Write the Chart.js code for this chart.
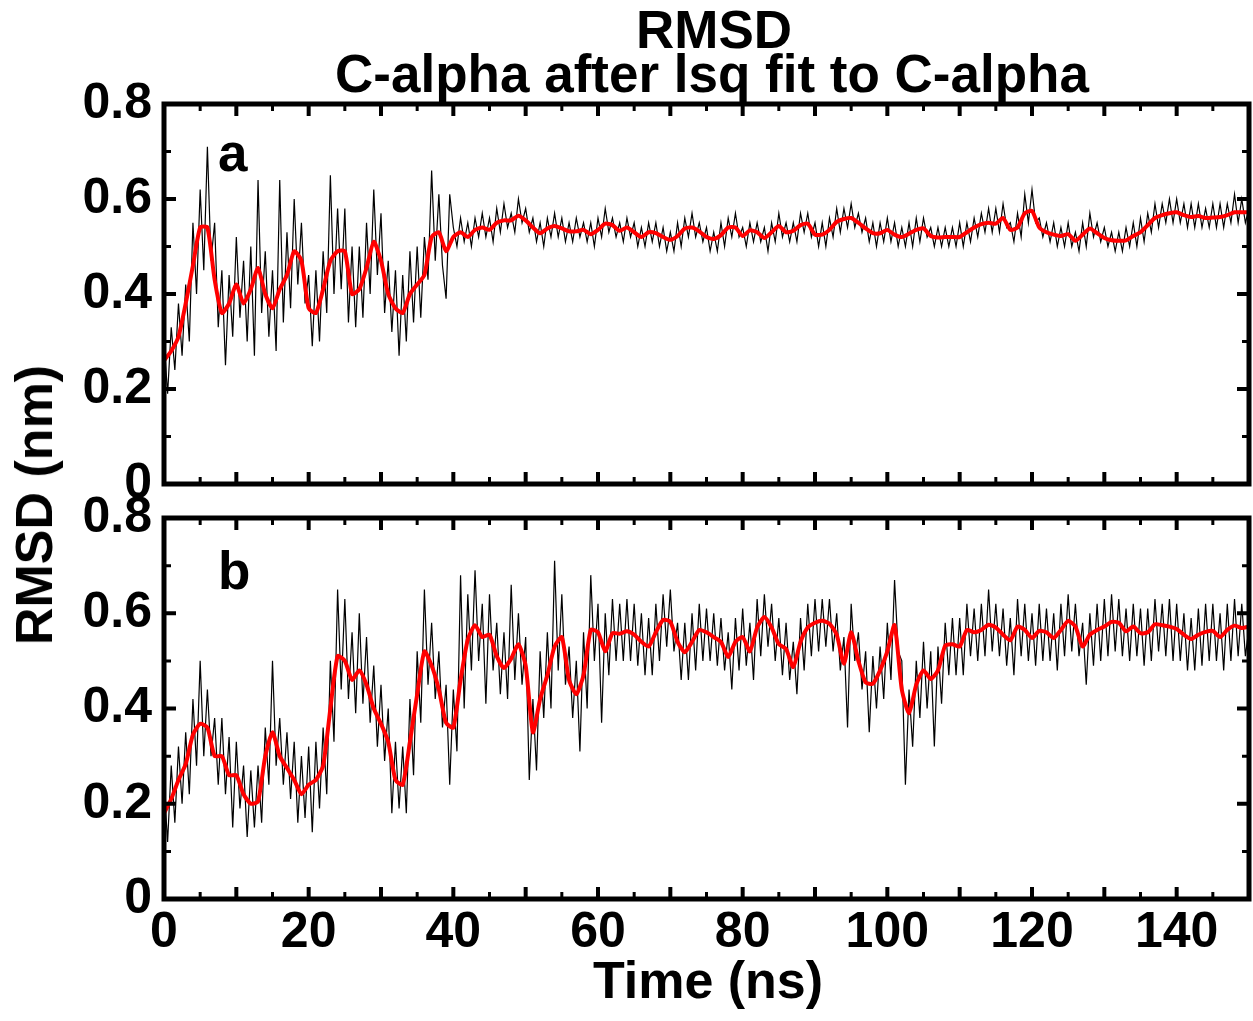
<!DOCTYPE html>
<html><head><meta charset="utf-8">
<script src="https://cdn.jsdelivr.net/npm/chart.js@4.4.0/dist/chart.umd.min.js"></script>
<style>
html,body{margin:0;padding:0;background:#fff;}
body{width:1253px;height:1021px;position:relative;overflow:hidden;font-family:"Liberation Sans",Arial,sans-serif;font-weight:bold;color:#000;}
canvas{position:absolute;left:0;}
#cA{top:0;} #cB{top:470px;}
.t{position:absolute;white-space:nowrap;line-height:1;}
</style></head><body>
<canvas id="cA" width="1253" height="540"></canvas>
<canvas id="cB" width="1253" height="551"></canvas>
<div class="t" style="left:714px;top:3px;font-size:53px;transform:translateX(-50%)">RMSD</div>
<div class="t" style="left:712px;top:47px;font-size:53px;transform:translateX(-50%)">C-alpha after lsq fit to C-alpha</div>
<div class="t" style="left:708px;top:954px;font-size:52px;transform:translateX(-50%)">Time (ns)</div>
<div class="t" style="left:34px;top:505px;font-size:52px;transform:translate(-50%,-50%) rotate(-90deg)">RMSD (nm)</div>
<div class="t" style="left:218px;top:126px;font-size:53px;">a</div>
<div class="t" style="left:218px;top:544px;font-size:53px;">b</div>
<script>
// ---- data (RMSD in nm) ----
const timeStepBlack = 0.5;   // ns between raw samples
const timeStepRed = 1;       // ns between running-average samples
const xMin = 0, xMax = 150, xLabelStep = 20;
const yMin = 0, yMax = 0.8, yLabelStep = 0.2;

// panel a raw RMSD (black)
const blackA = [
.30,.19,.33,.24,.38,.27,.42,.30,.55,.40,
.62,.45,.71,.47,.55,.33,.45,.25,.44,.31,
.52,.35,.47,.30,.50,.27,.64,.36,.49,.31,
.45,.28,.64,.34,.53,.37,.60,.42,.55,.38,
.44,.29,.45,.30,.49,.36,.65,.40,.58,.41,
.58,.34,.50,.33,.50,.35,.55,.40,.62,.44,
.57,.36,.47,.32,.45,.27,.44,.30,.49,.34,
.50,.35,.52,.43,.66,.47,.61,.46,.39,.61,
.54,.50,.56,.51,.55,.50,.56,.52,.57,.52,
.56,.51,.58,.53,.59,.54,.57,.53,.60,.55,
.58,.53,.56,.51,.55,.50,.56,.52,.57,.52,
.56,.51,.55,.51,.56,.52,.55,.51,.55,.50,
.56,.52,.58,.53,.56,.52,.55,.51,.56,.52,
.55,.50,.54,.50,.55,.51,.55,.50,.54,.49,
.53,.49,.55,.50,.56,.52,.57,.52,.55,.51,
.54,.49,.53,.49,.55,.50,.56,.52,.57,.52,
.54,.50,.55,.51,.55,.51,.54,.49,.55,.51,
.57,.52,.55,.51,.55,.51,.57,.53,.57,.52,
.55,.50,.55,.50,.56,.52,.58,.53,.58,.54,
.59,.54,.57,.53,.56,.51,.55,.50,.55,.51,
.56,.51,.55,.50,.54,.50,.55,.50,.56,.51,
.56,.52,.54,.50,.54,.50,.54,.50,.54,.50,
.55,.50,.55,.51,.56,.52,.57,.53,.58,.53,
.58,.53,.59,.54,.55,.51,.57,.52,.61,.55,
.62,.55,.56,.52,.55,.51,.55,.50,.54,.50,
.55,.50,.53,.49,.55,.50,.57,.52,.55,.51,
.54,.50,.53,.49,.53,.49,.54,.50,.55,.50,
.56,.51,.57,.53,.59,.54,.59,.55,.60,.55,
.60,.55,.59,.54,.59,.54,.59,.54,.58,.54,
.59,.54,.59,.54,.59,.55,.61,.55,.60,.55,
.58];

// panel a running average (red)
const redA = [
.26,.28,.31,.38,.46,.54,.54,.43,.36,.38,
.42,.38,.41,.455,.40,.37,.41,.44,.49,.47,
.37,.36,.41,.47,.49,.49,.40,.41,.455,.51,
.47,.40,.37,.36,.40,.42,.44,.52,.53,.49,
.52,.53,.52,.535,.54,.535,.55,.555,.555,.565,
.555,.54,.528,.538,.543,.538,.532,.532,.535,.526,
.535,.548,.545,.533,.54,.53,.52,.53,.528,.52,
.514,.522,.538,.54,.532,.52,.516,.524,.54,.54,
.522,.534,.53,.518,.53,.543,.53,.533,.545,.548,
.525,.525,.535,.552,.558,.56,.55,.538,.528,.528,
.535,.525,.52,.527,.535,.538,.522,.519,.52,.52,
.52,.53,.54,.547,.55,.548,.56,.535,.54,.57,
.575,.54,.53,.525,.522,.526,.512,.525,.538,.528,
.518,.513,.512,.513,.522,.53,.545,.56,.566,.57,
.572,.566,.562,.564,.56,.561,.562,.566,.572,.572,
.572];

// panel b raw RMSD (black)
const blackB = [
.24,.12,.28,.16,.32,.20,.35,.22,.42,.28,
.50,.30,.44,.30,.38,.24,.38,.22,.34,.15,
.33,.19,.28,.13,.27,.15,.28,.16,.36,.24,
.50,.28,.38,.24,.35,.21,.33,.16,.30,.17,
.32,.14,.33,.19,.36,.22,.50,.33,.65,.44,
.63,.42,.56,.39,.60,.41,.55,.37,.49,.32,
.45,.29,.40,.18,.33,.19,.32,.18,.42,.26,
.52,.37,.65,.45,.58,.42,.52,.36,.45,.24,
.44,.31,.68,.40,.64,.48,.69,.50,.62,.41,
.64,.48,.58,.43,.56,.42,.66,.46,.60,.45,
.55,.25,.42,.27,.52,.38,.56,.40,.71,.48,
.64,.45,.53,.38,.50,.31,.56,.40,.68,.50,
.62,.37,.60,.47,.63,.50,.62,.50,.63,.50,
.62,.49,.60,.47,.59,.47,.62,.50,.64,.53,
.65,.52,.58,.46,.58,.46,.60,.48,.62,.50,
.61,.50,.60,.49,.59,.48,.56,.44,.59,.48,
.61,.49,.58,.46,.63,.51,.64,.53,.62,.50,
.59,.47,.58,.46,.54,.43,.59,.48,.62,.51,
.63,.52,.63,.53,.63,.52,.60,.48,.55,.36,
.62,.50,.56,.44,.52,.35,.51,.40,.53,.42,
.58,.46,.67,.52,.50,.24,.44,.32,.50,.38,
.54,.40,.52,.32,.53,.41,.58,.47,.59,.47,
.59,.47,.62,.51,.61,.50,.62,.51,.65,.52,
.62,.51,.61,.49,.59,.47,.63,.51,.62,.50,
.60,.49,.62,.50,.61,.50,.60,.48,.62,.51,
.64,.52,.62,.51,.58,.45,.60,.49,.62,.50,
.63,.51,.64,.52,.63,.51,.61,.50,.62,.51,
.61,.49,.61,.50,.63,.52,.62,.51,.63,.50,
.62,.50,.60,.48,.59,.48,.61,.49,.62,.50,
.62,.50,.60,.48,.62,.50,.63,.51,.62,.51,
.57];

// panel b running average (red)
const redB = [
.18,.21,.25,.283,.345,.368,.36,.30,.30,.26,
.26,.22,.20,.205,.30,.35,.30,.275,.25,.22,
.24,.25,.28,.40,.51,.50,.46,.48,.45,.40,
.368,.33,.25,.24,.33,.43,.52,.49,.44,.37,
.36,.46,.545,.575,.55,.555,.51,.485,.505,.535,
.49,.35,.42,.47,.53,.55,.46,.43,.47,.565,
.56,.52,.558,.557,.562,.555,.54,.53,.56,.586,
.582,.54,.518,.54,.565,.56,.55,.54,.508,.54,
.55,.52,.57,.592,.57,.535,.525,.487,.54,.57,
.58,.584,.578,.555,.494,.56,.50,.455,.452,.48,
.52,.575,.44,.39,.45,.48,.462,.48,.532,.535,
.53,.565,.56,.565,.576,.57,.555,.543,.572,.565,
.548,.563,.56,.548,.565,.584,.572,.53,.555,.565,
.572,.582,.58,.562,.572,.558,.56,.577,.575,.572,
.567,.555,.546,.555,.561,.563,.55,.565,.574,.569,
.572];

const FONT = '"Liberation Sans", Arial, sans-serif';
Chart.defaults.font.family = FONT;
Chart.defaults.color = '#000';

const frameTicks = {
  id: 'frameTicks',
  afterDraw(chart) {
    const {ctx, chartArea: a, scales: {x, y}} = chart;
    ctx.save();
    ctx.strokeStyle = '#000';
    ctx.lineCap = 'butt';
    for (let k = 1; k < 30; k++) {
      const px = x.getPixelForValue(k * 5);
      const major = k % 2 === 0;
      const len = major ? 12 : 7;
      ctx.lineWidth = major ? 4 : 3;
      ctx.beginPath();
      ctx.moveTo(px, a.bottom); ctx.lineTo(px, a.bottom - len);
      ctx.moveTo(px, a.top); ctx.lineTo(px, a.top + len);
      ctx.stroke();
    }
    for (let k = 1; k < 8; k++) {
      const py = y.getPixelForValue(k / 10);
      const major = k % 2 === 0;
      const len = major ? 12 : 7;
      ctx.lineWidth = major ? 4 : 3;
      ctx.beginPath();
      ctx.moveTo(a.left, py); ctx.lineTo(a.left + len, py);
      ctx.moveTo(a.right, py); ctx.lineTo(a.right - len, py);
      ctx.stroke();
    }
    ctx.lineWidth = 5;
    ctx.strokeRect(a.left, a.top, a.right - a.left, a.bottom - a.top);
    ctx.restore();
  }
};

function toPoints(arr, step) { return arr.map((v, i) => ({x: i * step, y: v})); }

function makeChart(id, black, red, padding, showX) {
  return new Chart(document.getElementById(id), {
    type: 'line',
    data: {
      datasets: [
        {data: toPoints(red, timeStepRed), borderColor: '#ff0000', borderWidth: 4, pointRadius: 0, tension: 0.2, borderJoinStyle: 'round', borderCapStyle: 'round'},
        {data: toPoints(black, timeStepBlack), borderColor: '#000000', borderWidth: 1.2, pointRadius: 0, tension: 0}
      ]
    },
    options: {
      responsive: false,
      animation: false,
      devicePixelRatio: 1,
      events: [],
      layout: {padding: padding},
      plugins: {legend: {display: false}, tooltip: {enabled: false}, title: {display: false}},
      scales: {
        x: {
          type: 'linear', min: xMin, max: xMax, display: showX,
          grid: {display: false, drawTicks: false}, border: {display: false},
          ticks: {stepSize: xLabelStep, includeBounds: false, padding: 4, maxRotation: 0, autoSkip: false,
                  font: {size: 50, weight: 'bold', family: FONT}, color: '#000'},
          afterFit(s) { s.height = showX ? 122 : 0; }
        },
        y: {
          type: 'linear', min: yMin, max: yMax,
          grid: {display: false, drawTicks: false}, border: {display: false},
          ticks: {stepSize: yLabelStep, padding: 12, font: {size: 50, weight: 'bold', family: FONT}, color: '#000',
                  callback: v => (Math.abs(v) < 1e-9 ? '0' : v.toFixed(1))},
          afterFit(s) { s.width = 164; }
        }
      }
    },
    plugins: [frameTicks]
  });
}

makeChart('cA', blackA, redA, {left: 0, right: 4, top: 104, bottom: 56}, false);
makeChart('cB', blackB, redB, {left: 0, right: 4, top: 48, bottom: 0}, true);
</script>
</body></html>
